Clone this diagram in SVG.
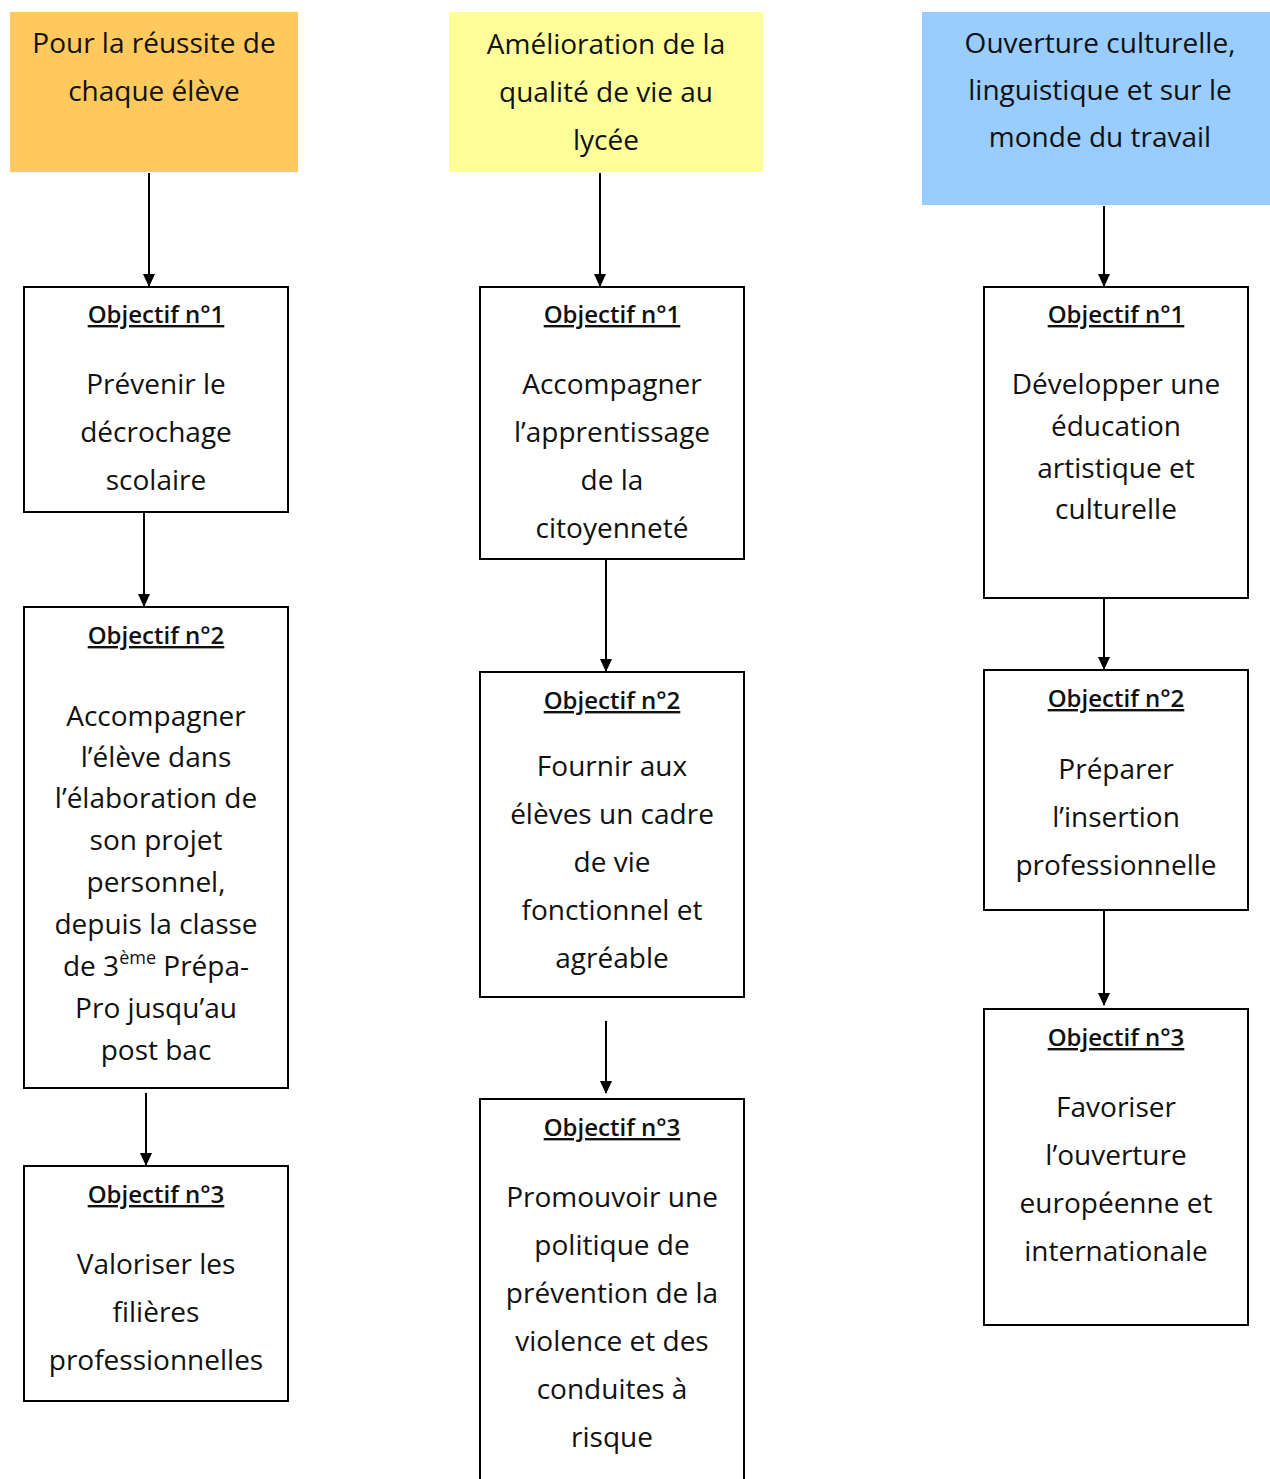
<svg xmlns="http://www.w3.org/2000/svg" width="1270" height="1479" viewBox="0 0 1270 1479">
<style>
.box{fill:#fff;stroke:#000;stroke-width:2}
.t{font-family:"Open Sans","Liberation Sans",sans-serif;font-size:28px;text-anchor:middle;fill:#111}
.h{font-family:"Open Sans","Liberation Sans",sans-serif;font-size:24px;font-weight:600;text-anchor:middle;text-decoration:underline;fill:#111}
.c{stroke:#000;stroke-width:2;fill:none;marker-end:url(#ar)}
</style>
<defs>
<marker id="ar" markerWidth="14" markerHeight="14" refX="12" refY="7" orient="auto" markerUnits="userSpaceOnUse">
<path d="M0,1 L13,7 L0,13 Z" fill="#000"/>
</marker>
<clipPath id="cp"><rect x="984" y="671" width="264" height="239"/></clipPath>
</defs>
<rect width="1270" height="1479" fill="#fff"/>
<g id="connectors">
<line class="c" x1="149" y1="173" x2="149" y2="286"/>
<line class="c" x1="144" y1="513" x2="144" y2="606"/>
<line class="c" x1="146" y1="1093" x2="146" y2="1165"/>
<line class="c" x1="600" y1="173" x2="600" y2="286"/>
<line class="c" x1="606" y1="560" x2="606" y2="671"/>
<line class="c" x1="606" y1="1021" x2="606" y2="1093"/>
<line class="c" x1="1104" y1="206" x2="1104" y2="286"/>
<line class="c" x1="1104" y1="599" x2="1104" y2="669"/>
<line class="c" x1="1104" y1="911" x2="1104" y2="1005"/>
</g>
<g id="header1">
<rect x="10" y="12" width="288" height="160" fill="#FFC95E"/>
<text class="t" x="154" y="53">Pour la réussite de</text>
<text class="t" x="154" y="101">chaque élève</text>
</g>
<g id="header2">
<rect x="449" y="12" width="314" height="160" fill="#FFFF99"/>
<text class="t" x="606" y="54">Amélioration de la</text>
<text class="t" x="606" y="102">qualité de vie au</text>
<text class="t" x="606" y="150">lycée</text>
</g>
<g id="header3">
<rect x="922" y="12" width="348" height="193" fill="#99CCFF"/>
<text class="t" x="1100" y="53">Ouverture culturelle,</text>
<text class="t" x="1100" y="100">linguistique et sur le</text>
<text class="t" x="1100" y="147">monde du travail</text>
</g>
<g id="c1o1">
<rect class="box" x="24" y="287" width="264" height="225"/>
<text class="h" x="156" y="323">Objectif n°1</text>
<text class="t" x="156" y="394">Prévenir le</text>
<text class="t" x="156" y="442">décrochage</text>
<text class="t" x="156" y="490">scolaire</text>
</g>
<g id="c1o2">
<rect class="box" x="24" y="607" width="264" height="481"/>
<text class="h" x="156" y="644">Objectif n°2</text>
<text class="t" x="156" y="726">Accompagner</text>
<text class="t" x="156" y="767">l’élève dans</text>
<text class="t" x="156" y="808">l’élaboration de</text>
<text class="t" x="156" y="850">son projet</text>
<text class="t" x="156" y="892">personnel,</text>
<text class="t" x="156" y="934">depuis la classe</text>
<text class="t" x="156" y="976">de 3<tspan font-size="18" baseline-shift="super">ème</tspan> Prépa-</text>
<text class="t" x="156" y="1018">Pro jusqu’au</text>
<text class="t" x="156" y="1060">post bac</text>
</g>
<g id="c1o3">
<rect class="box" x="24" y="1166" width="264" height="235"/>
<text class="h" x="156" y="1203">Objectif n°3</text>
<text class="t" x="156" y="1274">Valoriser les</text>
<text class="t" x="156" y="1322">filières</text>
<text class="t" x="156" y="1370">professionnelles</text>
</g>
<g id="c2o1">
<rect class="box" x="480" y="287" width="264" height="272"/>
<text class="h" x="612" y="323">Objectif n°1</text>
<text class="t" x="612" y="394">Accompagner</text>
<text class="t" x="612" y="442">l’apprentissage</text>
<text class="t" x="612" y="490">de la</text>
<text class="t" x="612" y="538">citoyenneté</text>
</g>
<g id="c2o2">
<rect class="box" x="480" y="672" width="264" height="325"/>
<text class="h" x="612" y="709">Objectif n°2</text>
<text class="t" x="612" y="776">Fournir aux</text>
<text class="t" x="612" y="824">élèves un cadre</text>
<text class="t" x="612" y="872">de vie</text>
<text class="t" x="612" y="920">fonctionnel et</text>
<text class="t" x="612" y="968">agréable</text>
</g>
<g id="c2o3">
<rect class="box" x="480" y="1099" width="264" height="400"/>
<text class="h" x="612" y="1136">Objectif n°3</text>
<text class="t" x="612" y="1207">Promouvoir une</text>
<text class="t" x="612" y="1255">politique de</text>
<text class="t" x="612" y="1303">prévention de la</text>
<text class="t" x="612" y="1351">violence et des</text>
<text class="t" x="612" y="1399">conduites à</text>
<text class="t" x="612" y="1447">risque</text>
</g>
<g id="c3o1">
<rect class="box" x="984" y="287" width="264" height="311"/>
<text class="h" x="1116" y="323">Objectif n°1</text>
<text class="t" x="1116" y="394">Développer une</text>
<text class="t" x="1116" y="436">éducation</text>
<text class="t" x="1116" y="478">artistique et</text>
<text class="t" x="1116" y="519">culturelle</text>
</g>
<g id="c3o2">
<rect class="box" x="984" y="670" width="264" height="240"/>
<text class="h" x="1116" y="707">Objectif n°2</text>
<text class="t" x="1116" y="779">Préparer</text>
<text class="t" x="1116" y="827">l’insertion</text>
<text class="t" x="1116" y="875">professionnelle</text>
</g>
<g id="c3o3">
<rect class="box" x="984" y="1009" width="264" height="316"/>
<text class="h" x="1116" y="1046">Objectif n°3</text>
<text class="t" x="1116" y="1117">Favoriser</text>
<text class="t" x="1116" y="1165">l’ouverture</text>
<text class="t" x="1116" y="1213">européenne et</text>
<text class="t" x="1116" y="1261">internationale</text>
</g>
</svg>
